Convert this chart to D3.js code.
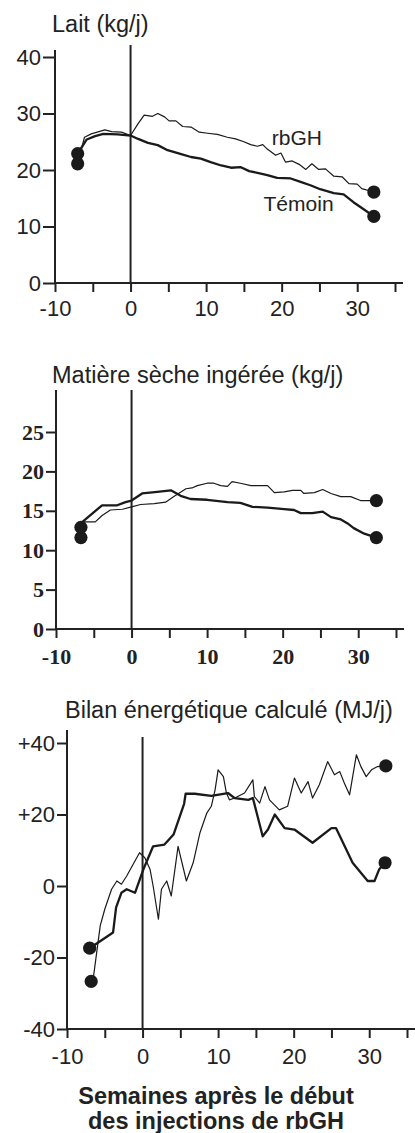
<!DOCTYPE html>
<html>
<head>
<meta charset="utf-8">
<script src="https://cdn.jsdelivr.net/npm/d3@7"></script>
<style>
  body { margin: 0; background: #fff; }
  svg { display: block; }
  .title { font-family: "Liberation Sans", Arial, sans-serif; font-size: 23.5px; fill: #222; }
  .axis text { font-family: "Liberation Sans", Arial, sans-serif; font-size: 22px; fill: #222; }
  .axis.serif text { font-family: "Liberation Serif", "Times New Roman", serif; font-weight: bold; font-size: 22px; }
  .axis line { stroke: #222; stroke-width: 2; }
  .lbl { font-family: "Liberation Sans", Arial, sans-serif; font-size: 21px; fill: #222; }
  .foot { font-family: "Liberation Sans", Arial, sans-serif; font-weight: bold; font-size: 23.5px; fill: #222; }
</style>
</head>
<body>
<svg width="415" height="1133"></svg>
<script>
// weeks after first rbGH injection, ticks
var xTicks = [-10, -5, 0, 5, 10, 15, 20, 25, 30, 35];
var xLabels = [-10, 0, 10, 20, 30];

// Lait (kg/j)
var laitTicks = [0, 10, 20, 30, 40];
var laitRbGH = [[-7, 21.1], [-6.1, 25.8], [-5.2, 26.4], [-3.4, 27.1], [-2.5, 26.8], [-1.2, 26.7], [0, 26.1],
  [1, 28.2], [1.8, 29.7], [2.9, 29.5], [3.6, 30], [4.5, 29.4], [5.1, 28.7], [6, 28.7], [6.9, 27.7], [8, 27.6],
  [9.1, 26.7], [10.2, 26.5], [11.5, 26.3], [12.8, 25.8], [13.9, 25.5], [15, 25], [15.9, 24.5], [16.8, 24.2],
  [17.5, 24.5], [18.1, 23.7], [19.2, 22.6], [19.9, 23], [20.5, 21.4], [21.4, 21.6], [22.3, 21], [23.2, 20.1],
  [24, 21.1], [24.9, 20.1], [25.8, 20.2], [26.9, 18.9], [28, 18.8], [28.9, 17.6], [30, 17.5], [30.6, 16.7], [32.2, 16.1]];
var laitTemoin = [[-7, 22.9], [-5.8, 25.4], [-4.7, 26], [-3.6, 26.4], [-1.7, 26.3], [0, 26.1], [1, 25.5],
  [2.3, 24.8], [3.6, 24.4], [4.9, 23.5], [6.7, 22.8], [8, 22.3], [9.3, 22], [10.6, 21.4], [12, 20.8],
  [13.3, 20.4], [14.6, 20.5], [15.7, 19.8], [16.8, 19.5], [18.1, 19.1], [19.4, 18.6], [21.2, 18.5],
  [22.5, 17.9], [23.8, 17.3], [25.1, 16.6], [26.9, 15.9], [28.2, 15.7], [29.5, 14.3], [30.9, 13], [32.2, 11.8]];
var laitLabels = [["rbGH", 18.7, 24.4], ["Témoin", 17.6, 12.7]];

// Matière sèche ingérée (kg/j)
var msTicks = [0, 5, 10, 15, 20, 25];
var msRbGH = [[-6.7, 11.6], [-6.3, 13.6], [-4.8, 13.6], [-3.9, 14.4], [-2.8, 15.1], [-1.2, 15.2], [0, 15.5],
  [1.2, 15.8], [3, 15.9], [4.5, 16.1], [5.6, 16.8], [7.2, 17.8], [8, 17.9], [8.7, 18.2], [10, 18.5],
  [10.9, 18.5], [11.8, 18.2], [12.7, 18.1], [13.3, 18.7], [14.4, 18.5], [15.8, 18.2], [18, 18.2],
  [18.9, 17.3], [20.2, 17.4], [21.3, 17.6], [22.4, 17.6], [22.8, 17.2], [24.2, 17.3], [25.3, 17.7],
  [26.4, 17.2], [27.7, 16.8], [29, 16.8], [30.3, 16.3], [32.4, 16.3]];
var msTemoin = [[-6.7, 12.9], [-6.5, 13.6], [-3.9, 15.7], [-1.9, 15.7], [-0.8, 16.1], [0, 16.3], [1.4, 17.2],
  [3.4, 17.4], [5.2, 17.6], [6.5, 16.9], [7.8, 16.5], [10, 16.4], [12.7, 16.1], [14.4, 16], [16, 15.5],
  [18, 15.4], [20.2, 15.2], [21.5, 15.1], [22.4, 14.7], [23.9, 14.7], [25.3, 14.9], [26.4, 14.2],
  [27.7, 13.9], [28.6, 13.4], [29.4, 12.8], [30.8, 12.1], [32.4, 11.6]];

// Bilan énergétique calculé (MJ/j)
var bilanTicks = [-40, -20, 0, 20, 40];
var bilanRbGH = [[-6.8, -26.7], [-6.5, -25.5], [-5.6, -11.1], [-5, -6.5], [-4.1, -0.9], [-3.4, 1.4], [-2.8, 0.5],
  [-2.1, 2.8], [-1.5, 5.1], [-0.4, 9.3], [0.3, 7.9], [1, 4.6], [1.4, 0], [2.1, -9.3], [2.5, -0.9], [3.2, 1.4],
  [3.8, -2.8], [4.7, 11.1], [5.8, 1.4], [6.7, 6.5], [7.6, 14.9], [8.5, 20.4], [9.1, 22.3], [9.6, 26.9],
  [10, 32.5], [10.7, 30.6], [11.1, 26], [11.5, 24.1], [12.2, 24.6], [13.5, 26], [14.6, 29.7], [14.8, 25],
  [15.5, 23.2], [16.2, 27.8], [16.8, 24.1], [18.1, 21.3], [19.2, 22.3], [20.1, 30.2], [21, 26], [21.9, 29.2],
  [22.5, 24.6], [23.4, 28.3], [24.5, 34.8], [25.4, 31.1], [26.1, 32], [26.7, 28.8], [27.4, 25.5], [28.3, 36.7],
  [28.9, 33.4], [29.6, 30.6], [30.3, 32.5], [31.1, 33.4], [32.2, 33.6]];
var bilanTemoin = [[-7, -17.4], [-3.9, -13], [-3.5, -6], [-2.8, -1.9], [-2.1, -0.9], [-1, -1.9], [0.1, 4.6],
  [1.4, 11.1], [2.9, 11.6], [4.1, 14.4], [5.5, 23], [5.7, 25.8], [6.9, 25.8], [9.1, 25.2], [11.3, 26],
  [12.2, 24.6], [14, 24.1], [14.6, 24.6], [15.9, 13.9], [16.6, 15.8], [17.5, 20], [18.8, 16.2], [20.1, 15.8],
  [22.5, 12.1], [25, 16.2], [25.6, 16.2], [27.8, 6.5], [29.8, 1.4], [30.7, 1.4], [31.3, 4.6], [32.1, 6.5]];

var footLines = ["Semaines après le début", "des injections de rbGH"];

var svg = d3.select("svg");

function panel(o) {
  var g = svg.append("g");
  var x = d3.scaleLinear().domain([-10, 35]).range(o.xr),
    y = d3.scaleLinear().domain(o.yd).range(o.yr);

  g.append("text").attr("class", "title")
    .attr("x", o.titleX).attr("y", o.titleY).text(o.title);

  // axes (domain path replaced by longer lines)
  var ax = g.append("g").attr("class", "axis" + (o.serif ? " serif" : ""))
    .attr("transform", "translate(0," + y(o.yd[0]) + ")")
    .call(d3.axisBottom(x).tickValues(xTicks).tickSize(9).tickPadding(o.xPad)
      .tickFormat(function(d) { return xLabels.indexOf(d) >= 0 ? d : ""; }));
  ax.select(".domain").remove();
  var ay = g.append("g").attr("class", "axis" + (o.serif ? " serif" : ""))
    .attr("transform", "translate(" + x(-10) + ",0)")
    .call(d3.axisLeft(y).tickValues(o.yTicks).tickSize(o.yTick).tickPadding(2).tickFormat(o.yFmt || d3.format("d")));
  ay.select(".domain").remove();

  g.append("line").attr("x1", x(-10)).attr("x2", o.xEnd)
    .attr("y1", y(o.yd[0])).attr("y2", y(o.yd[0]))
    .attr("stroke", "#222").attr("stroke-width", 2);
  g.append("line").attr("x1", x(-10)).attr("x2", x(-10))
    .attr("y1", y(o.yd[0])).attr("y2", o.yTop)
    .attr("stroke", "#222").attr("stroke-width", 2);
  // injection start
  g.append("line").attr("x1", x(0)).attr("x2", x(0))
    .attr("y1", y(o.yd[0])).attr("y2", o.zeroTop)
    .attr("stroke", "#222").attr("stroke-width", 2);

  var line = d3.line().x(function(d) { return x(d[0]); }).y(function(d) { return y(d[1]); });
  [[o.rb, 1.2], [o.tem, 2.3]].forEach(function(s) {
    g.append("path").attr("d", line(s[0])).attr("fill", "none")
      .attr("stroke", "#1a1a1a").attr("stroke-width", s[1]).attr("stroke-linejoin", "round");
    [s[0][0], s[0][s[0].length - 1]].forEach(function(d) {
      g.append("circle").attr("cx", x(d[0])).attr("cy", y(d[1])).attr("r", 6.6).attr("fill", "#1a1a1a");
    });
  });

  (o.labels || []).forEach(function(l) {
    g.append("text").attr("class", "lbl").attr("x", x(l[1])).attr("y", y(l[2])).text(l[0]);
  });
}

panel({title: "Lait (kg/j)", titleX: 52, titleY: 32, xr: [55, 395], yd: [0, 40], yr: [283, 57],
  yTicks: laitTicks, yTick: 12, xPad: 8, xEnd: 403, yTop: 50, zeroTop: 45,
  rb: laitRbGH, tem: laitTemoin, labels: laitLabels});

panel({title: "Matière sèche ingérée (kg/j)", titleX: 52, titleY: 383, xr: [56, 396], yd: [0, 25], yr: [629, 432],
  yTicks: msTicks, yTick: 10, xPad: 10, xEnd: 404, yTop: 390, zeroTop: 390, serif: true,
  rb: msRbGH, tem: msTemoin});

panel({title: "Bilan énergétique calculé (MJ/j)", titleX: 65, titleY: 718, xr: [67, 407], yd: [-40, 40], yr: [1029, 743],
  yTicks: bilanTicks, yTick: 10, xPad: 10, xEnd: 415, yTop: 730, zeroTop: 737,
  yFmt: function(d) { return d > 0 ? "+" + d : d; },
  rb: bilanRbGH, tem: bilanTemoin});

svg.selectAll(".foot").data(footLines).enter().append("text").attr("class", "foot")
  .attr("x", 216).attr("y", function(d, i) { return 1104 + i * 25; })
  .attr("text-anchor", "middle").text(function(d) { return d; });
</script>
</body>
</html>
